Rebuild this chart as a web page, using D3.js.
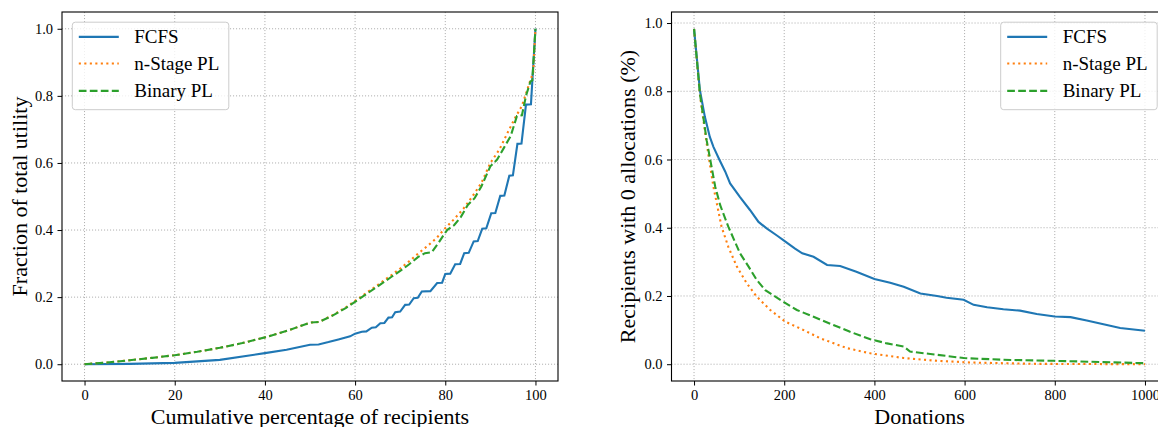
<!DOCTYPE html>
<html>
<head>
<meta charset="utf-8">
<script src="https://cdn.jsdelivr.net/npm/d3@7"></script>
<style>
  body { margin: 0; background: #fff; }
  svg { display: block; font-family: "Liberation Serif", "DejaVu Serif", serif; }
  .tick text { font-family: "Liberation Serif", serif; }
</style>
</head>
<body>
<svg width="1158" height="427"></svg>
<script>
// ---- left panel: cumulative share of utility ----
const fcfsLeftX = [0, 10, 20, 30, 40, 44.8, 50, 51.9, 54.1, 56.3, 58.9, 60, 61.5, 62.5, 63.7, 64.6, 65.6, 66.5, 67.4, 68.2, 68.9, 70, 71.1, 72, 73, 73.9, 74.8, 76.7, 78.2, 79.3, 80, 81.1, 82.2, 83.3, 84.2, 85.2, 86.3, 87.2, 88.2, 89.1, 90.2, 91.1, 92.2, 93.1, 94.2, 95, 96, 96.9, 97.9, 99, 100];
const fcfsLeftY = [0, 0.001, 0.004, 0.013, 0.033, 0.043, 0.058, 0.059, 0.066, 0.074, 0.083, 0.091, 0.097, 0.098, 0.109, 0.110, 0.122, 0.123, 0.139, 0.140, 0.155, 0.157, 0.177, 0.178, 0.197, 0.198, 0.217, 0.218, 0.242, 0.243, 0.269, 0.270, 0.298, 0.299, 0.331, 0.332, 0.366, 0.367, 0.404, 0.405, 0.450, 0.451, 0.502, 0.503, 0.562, 0.563, 0.657, 0.658, 0.774, 0.775, 1.0];

const nStageLeftX = [0, 5, 10, 15, 20, 25, 30, 35, 40, 45, 50, 52, 55, 58, 61.5, 65, 68, 70, 72, 74, 76, 78, 79.6, 82, 84, 86, 88, 90, 92, 94, 95.5, 97, 98.9, 99.5, 100];
const nStageLeftY = [0, 0.005, 0.012, 0.019, 0.027, 0.037, 0.049, 0.063, 0.08, 0.1, 0.124, 0.126, 0.146, 0.17, 0.203, 0.236, 0.265, 0.285, 0.307, 0.33, 0.352, 0.375, 0.4, 0.433, 0.463, 0.5, 0.54, 0.6, 0.64, 0.695, 0.735, 0.77, 0.848, 0.87, 1.0];

const binaryLeftX = [0, 5, 10, 15, 20, 25, 30, 35, 40, 45, 50, 52, 55, 58, 61.5, 65, 68, 70, 72, 74, 75.5, 77, 78.5, 80.4, 82, 83.5, 85, 86.5, 88, 90, 91.5, 93, 94.5, 95.9, 97, 97.9, 98.9, 99.3, 100];
const binaryLeftY = [0, 0.005, 0.012, 0.019, 0.027, 0.037, 0.049, 0.063, 0.08, 0.1, 0.124, 0.126, 0.145, 0.168, 0.2, 0.232, 0.26, 0.278, 0.298, 0.32, 0.331, 0.334, 0.362, 0.4, 0.415, 0.44, 0.475, 0.495, 0.53, 0.59, 0.61, 0.645, 0.68, 0.74, 0.742, 0.8, 0.843, 0.846, 1.0];

// ---- right panel: recipients with zero allocations ----
const fcfsRightX = [0, 13, 24, 35, 43, 56, 69, 80, 102, 124, 143, 161, 183, 198, 224, 240, 265, 295, 324, 360, 400, 435, 465, 502, 539, 560, 598, 620, 650, 686, 723, 760, 800, 835, 871, 908, 945, 1000];
const fcfsRightY = [0.983, 0.803, 0.725, 0.666, 0.637, 0.600, 0.565, 0.530, 0.490, 0.452, 0.417, 0.398, 0.378, 0.364, 0.339, 0.325, 0.315, 0.291, 0.288, 0.271, 0.250, 0.239, 0.227, 0.207, 0.200, 0.195, 0.189, 0.174, 0.167, 0.161, 0.157, 0.147, 0.140, 0.138, 0.128, 0.117, 0.106, 0.098];

const nStageRightX = [0, 13, 28, 43, 61, 76, 95, 117, 139, 169, 202, 243, 280, 339, 391, 465, 539, 613, 760, 1000];
const nStageRightY = [0.983, 0.79, 0.647, 0.520, 0.403, 0.344, 0.286, 0.237, 0.198, 0.159, 0.125, 0.100, 0.076, 0.047, 0.032, 0.018, 0.010, 0.005, 0.001, 0];

const binaryRightX = [0, 13, 28, 47, 58, 76, 102, 121, 139, 158, 198, 228, 265, 309, 346, 391, 428, 465, 479, 524, 598, 686, 797, 1000];
const binaryRightY = [0.983, 0.793, 0.656, 0.520, 0.466, 0.403, 0.325, 0.286, 0.247, 0.217, 0.183, 0.159, 0.139, 0.115, 0.095, 0.073, 0.061, 0.052, 0.037, 0.030, 0.018, 0.013, 0.010, 0.003];

const names = ["FCFS", "n-Stage PL", "Binary PL"];
const colors = ["#1f77b4", "#ff7f0e", "#2ca02c"];
const dashes = [null, "2.1,3.4", "7.7,3.3"];

const leftXTicks = [0, 20, 40, 60, 80, 100];
const rightXTicks = [0, 200, 400, 600, 800, 1000];
const yTicks = [0, 0.2, 0.4, 0.6, 0.8, 1.0];

const svg = d3.select("svg");

function panel(p) {
  const x = d3.scaleLinear().domain(p.xDomain).range([p.left, p.right]);
  const y = d3.scaleLinear().domain(p.yDomain).range([p.bottom, p.top]);
  const g = svg.append("g");

  // grid
  g.selectAll(".gx").data(p.xTicks).enter().append("line")
    .attr("x1", d => x(d)).attr("x2", d => x(d))
    .attr("y1", p.top).attr("y2", p.bottom)
    .attr("stroke", "#b0b0b0").attr("stroke-width", 1).attr("stroke-dasharray", "1.1,1.9");
  g.selectAll(".gy").data(yTicks).enter().append("line")
    .attr("x1", p.left).attr("x2", p.right)
    .attr("y1", d => y(d)).attr("y2", d => y(d))
    .attr("stroke", "#b0b0b0").attr("stroke-width", 1).attr("stroke-dasharray", "1.1,1.9");

  // series
  const line = d3.line().x(d => x(d[0])).y(d => y(d[1]));
  p.series.forEach((s, i) => {
    g.append("path")
      .datum(d3.zip(s[0], s[1]))
      .attr("d", line)
      .attr("fill", "none")
      .attr("stroke", colors[i])
      .attr("stroke-width", 2.1)
      .attr("stroke-dasharray", dashes[i]);
  });

  // axes
  const xa = g.append("g").attr("transform", `translate(0,${p.bottom})`)
    .call(d3.axisBottom(x).tickValues(p.xTicks).tickFormat(d3.format("d")).tickSize(4.5).tickPadding(4.5));
  const ya = g.append("g").attr("transform", `translate(${p.left},0)`)
    .call(d3.axisLeft(y).tickValues(yTicks).tickFormat(d3.format(".1f")).tickSize(4.5).tickPadding(4.5));
  [xa, ya].forEach(a => {
    a.attr("font-family", null);
    a.select(".domain").remove();
    a.selectAll("text").attr("font-size", "14.5px").attr("fill", "#000");
    a.selectAll("line").attr("stroke", "#000").attr("stroke-width", 1);
  });

  // frame
  g.append("rect")
    .attr("x", p.left).attr("y", p.top)
    .attr("width", p.right - p.left).attr("height", p.bottom - p.top)
    .attr("fill", "none").attr("stroke", "#000").attr("stroke-width", 1.1);

  // labels
  g.append("text")
    .attr("x", (p.left + p.right) / 2).attr("y", 423.5)
    .attr("text-anchor", "middle").attr("font-size", "22px")
    .text(p.xLabel);
  g.append("text")
    .attr("transform", `translate(${p.yLabelX},${(p.top + p.bottom) / 2}) rotate(-90)`)
    .attr("text-anchor", "middle").attr("font-size", "22px")
    .text(p.yLabel);

  // legend
  const lg = g.append("g").attr("transform", `translate(${p.legX},${p.legY})`);
  lg.append("rect")
    .attr("width", 156.5).attr("height", 87.5).attr("rx", 3)
    .attr("fill", "#fff").attr("fill-opacity", 0.8)
    .attr("stroke", "#cccccc").attr("stroke-width", 1);
  const rows = [14.7, 41.3, 68.7];
  names.forEach((n, i) => {
    lg.append("line")
      .attr("x1", 6.5).attr("x2", 46.5)
      .attr("y1", rows[i]).attr("y2", rows[i])
      .attr("stroke", colors[i]).attr("stroke-width", 2.1)
      .attr("stroke-dasharray", dashes[i]);
    lg.append("text")
      .attr("x", 62).attr("y", rows[i] + 6.5)
      .attr("font-size", "19px")
      .text(n);
  });
}

panel({
  left: 62, right: 558, top: 12, bottom: 381,
  xDomain: [-5, 105], yDomain: [-0.05, 1.05],
  xTicks: leftXTicks,
  series: [[fcfsLeftX, fcfsLeftY], [nStageLeftX, nStageLeftY], [binaryLeftX, binaryLeftY]],
  xLabel: "Cumulative percentage of recipients",
  yLabel: "Fraction of total utility",
  yLabelX: 26.5,
  legX: 72.3, legY: 22.2
});

panel({
  left: 671.5, right: 1167.5, top: 12, bottom: 381,
  xDomain: [-50, 1050], yDomain: [-0.0492, 1.0323],
  xTicks: rightXTicks,
  series: [[fcfsRightX, fcfsRightY], [nStageRightX, nStageRightY], [binaryRightX, binaryRightY]],
  xLabel: "Donations",
  yLabel: "Recipients with 0 allocations (%)",
  yLabelX: 634.5,
  legX: 1000.7, legY: 22.2
});
</script>
</body>
</html>
